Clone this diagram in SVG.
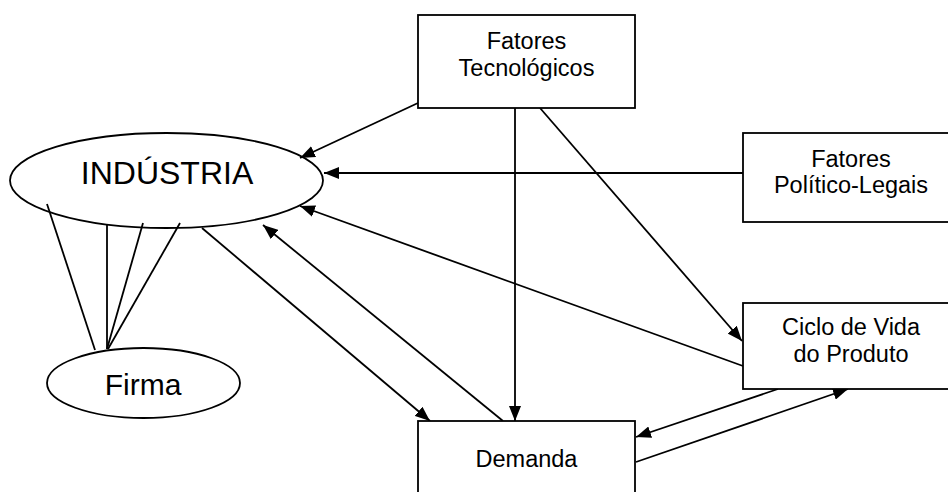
<svg xmlns="http://www.w3.org/2000/svg" width="948" height="492" viewBox="0 0 948 492">
<defs>
<marker id="ah" markerUnits="userSpaceOnUse" markerWidth="16" markerHeight="12" refX="15" refY="6" orient="auto">
<path d="M0,0 L15,6 L0,12 z" fill="#000"/>
</marker>
<style>
.shape{fill:#fff;stroke:#000;stroke-width:1.8}
.t{font-family:"Liberation Sans",Arial,sans-serif;fill:#000;text-anchor:middle}
.s{font-size:23.5px}
.c line{stroke:#000;stroke-width:1.8}
.c .a{marker-end:url(#ah)}
</style>
</defs>
<rect width="948" height="492" fill="#fff"/>
<g class="c" id="connectors">
<line x1="47" y1="204" x2="95" y2="350"/>
<line x1="107" y1="224" x2="107" y2="349"/>
<line x1="143" y1="223" x2="107" y2="349"/>
<line x1="180" y1="223" x2="108" y2="349"/>
<line class="a" x1="418" y1="103" x2="300" y2="158"/>
<line class="a" x1="743" y1="173" x2="324" y2="173"/>
<line class="a" x1="743" y1="366" x2="300" y2="206"/>
<line class="a" x1="503" y1="421" x2="263" y2="225"/>
<line class="a" x1="202" y1="228" x2="430" y2="421"/>
<line class="a" x1="515" y1="108" x2="515" y2="421"/>
<line class="a" x1="540" y1="108" x2="742" y2="341"/>
<line class="a" x1="778" y1="389" x2="636" y2="437"/>
<line class="a" x1="636" y1="462" x2="848" y2="389"/>
</g>
<g id="industria">
<ellipse class="shape" cx="166.5" cy="180.5" rx="156.5" ry="47.5" fill="none" style="fill:none"/>
<text class="t" x="167" y="184" font-size="32">INDÚSTRIA</text>
</g>
<g id="firma">
<ellipse class="shape" cx="143.5" cy="383" rx="96.5" ry="35"/>
<text class="t" x="143" y="395" font-size="30">Firma</text>
</g>
<g id="fatores-tecnologicos">
<rect class="shape" x="418" y="15" width="217" height="93"/>
<text class="t s" x="526.5" y="49">Fatores</text>
<text class="t s" x="526.5" y="76">Tecnológicos</text>
</g>
<g id="fatores-politico-legais">
<rect class="shape" x="743" y="133" width="216" height="89"/>
<text class="t s" x="851" y="167">Fatores</text>
<text class="t s" x="851" y="193">Político-Legais</text>
</g>
<g id="ciclo-de-vida">
<rect class="shape" x="743" y="303" width="216" height="86"/>
<text class="t s" x="851" y="335">Ciclo de Vida</text>
<text class="t s" x="851" y="362">do Produto</text>
</g>
<g id="demanda">
<rect class="shape" x="418" y="421" width="217" height="93"/>
<text class="t s" x="526.5" y="467">Demanda</text>
</g>
</svg>
